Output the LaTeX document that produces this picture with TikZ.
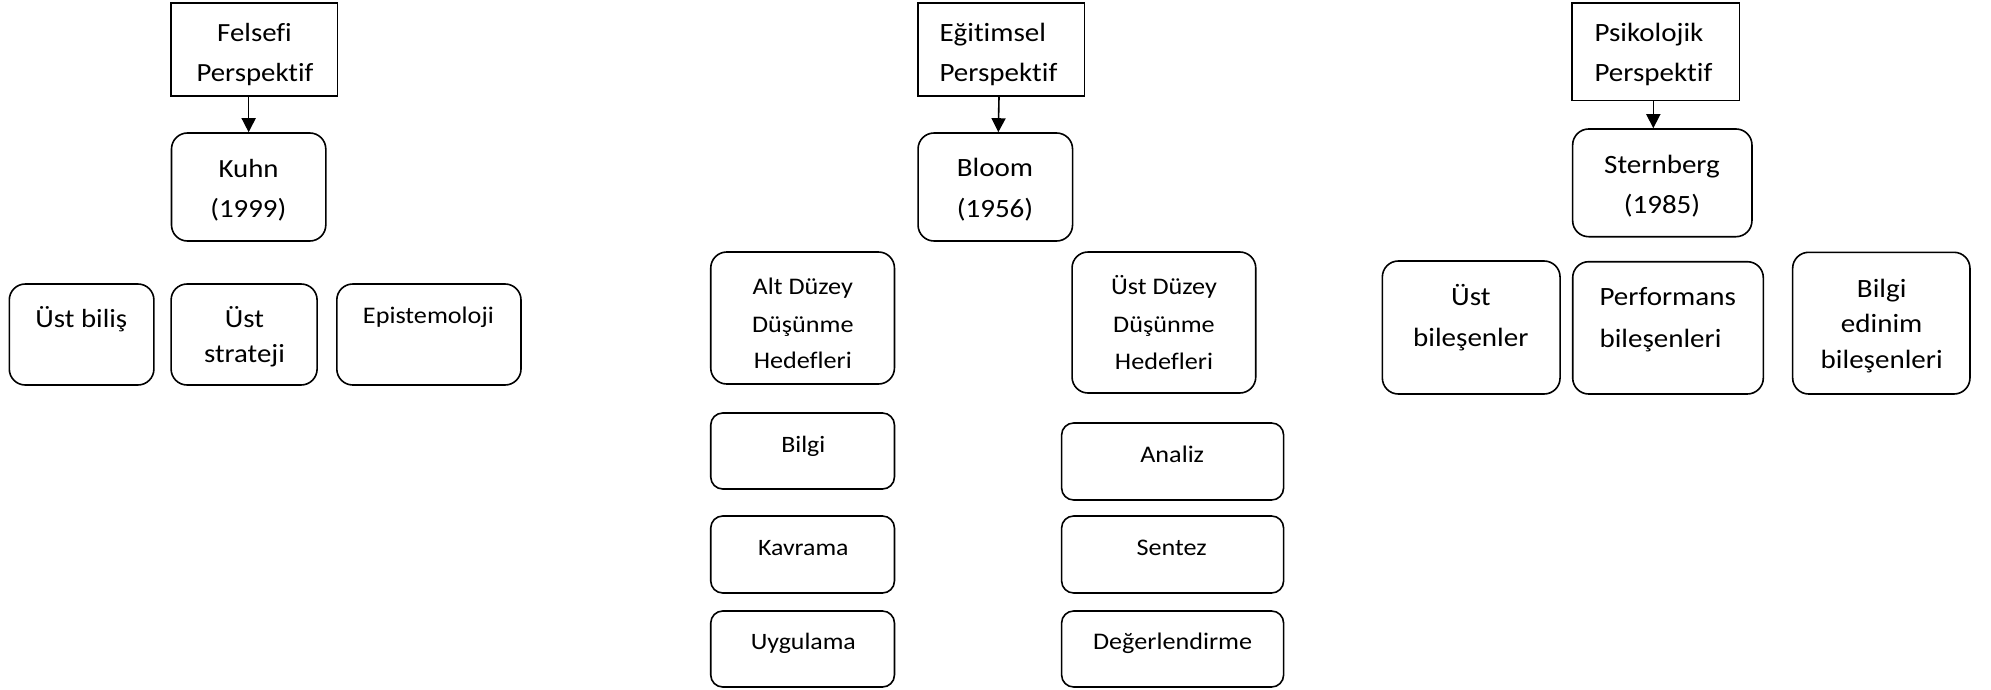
\documentclass[tikz,border=0pt]{standalone}
\usepackage{fontspec}
\setmainfont{Carlito}[FakeStretch=1.1, Ligatures={NoCommon}]
\usetikzlibrary{arrows.meta}
\tikzset{
  sqbox/.style={draw, line width=1.6pt, inner sep=0pt},
  rbox/.style={draw, line width=1.6pt, inner sep=0pt, rounded corners=16pt},
  rsbox/.style={draw, line width=1.6pt, inner sep=0pt, rounded corners=12pt},
  lbl/.style={inner sep=0pt, anchor=base},
  lbll/.style={inner sep=0pt, anchor=base west},
  fA/.style={font=\fontsize{26.2pt}{31pt}\selectfont},
  fH/.style={font=\fontsize{26.4pt}{31pt}\selectfont},
  fB/.style={font=\fontsize{23.8pt}{28pt}\selectfont},
  fC/.style={font=\fontsize{23.8pt}{28pt}\selectfont},
  fS/.style={font=\fontsize{23.5pt}{28pt}\selectfont},
  arr/.style={line width=1.6pt, -{Triangle[width=14pt,length=14pt]}}
}
\begin{document}
\begin{tikzpicture}[x=1pt,y=-1pt]
\useasboundingbox (0,0) rectangle (1991,690);
% ---------- Felsefi ----------
\node[sqbox, minimum width=166.4pt, minimum height=93pt] (fel) at (254.3,49.5) {};
\node[rbox, minimum width=154.3pt, minimum height=108pt] (kuhn) at (248.65,187) {};
\node[rbox, minimum width=144.6pt, minimum height=101pt] (ustbilis) at (81.6,334.5) {};
\node[rbox, minimum width=146pt, minimum height=101pt] (ststrat) at (244.1,334.5) {};
\node[rbox, minimum width=184.2pt, minimum height=101pt] (epis) at (428.9,334.5) {};
\draw[arr] (kuhn.north |- fel.south) -- (kuhn.north);
\node[lbl, fA] (felT1) at (254.5,42) {Felsefi};
\node[lbl, fA] (felT2) at (255,82) {Perspektif};
\node[lbl, fA] (kuhnT1) at (248.6,177) {Kuhn};
\node[lbl, fA] (kuhnT2) at (248.3,217) {(1999)};
\node[lbl, fA] (ustbilisT) at (81.4,327) {Üst biliş};
\node[lbl, fA] (ststratT1) at (244.5,327) {Üst};
\node[lbl, fA] (ststratT2) at (244.5,362) {strateji};
\node[lbl, fB] (episT) at (428.4,323) {Epistemoloji};
% ---------- Egitimsel ----------
\node[sqbox, minimum width=166.6pt, minimum height=93pt] (egit) at (1001,49.5) {};
\node[rbox, minimum width=154.5pt, minimum height=108pt] (bloom) at (995.3,187) {};
\draw[arr] ([xshift=-2pt]egit.south) -- ([xshift=3pt]bloom.north);
\node[lbll, fH] (egitT1) at (939.3,42) {Eğitimsel};
\node[lbll, fH] (egitT2) at (939.3,82) {Perspektif};
\node[lbl, fH] (bloomT1) at (995,176) {Bloom};
\node[lbl, fH] (bloomT2) at (995,217) {(1956)};
\node[rbox, minimum width=183.7pt, minimum height=132pt] (alt) at (802.6,318) {};
\node[rbox, minimum width=183.7pt, minimum height=141pt] (ust) at (1163.9,322.5) {};
\node[lbl, fC] (altT1) at (802.8,294) {Alt Düzey};
\node[lbl, fC] (altT2) at (802.8,332) {Düşünme};
\node[lbl, fC] (altT3) at (802.8,368) {Hedefleri};
\node[lbl, fC] (ustT1) at (1164,294) {Üst Düzey};
\node[lbl, fC] (ustT2) at (1164,332) {Düşünme};
\node[lbl, fC] (ustT3) at (1164,369) {Hedefleri};
\node[rsbox, minimum width=183.7pt, minimum height=76pt] (bilgi) at (802.6,451) {};
\node[rsbox, minimum width=183.7pt, minimum height=77pt] (kavrama) at (802.6,554.5) {};
\node[rsbox, minimum width=183.7pt, minimum height=76pt] (uygulama) at (802.6,649) {};
\node[rsbox, minimum width=222pt, minimum height=77pt] (analiz) at (1172.6,461.5) {};
\node[rsbox, minimum width=222pt, minimum height=77pt] (sentez) at (1172.6,554.5) {};
\node[rsbox, minimum width=222pt, minimum height=76pt] (deger) at (1172.6,649) {};
\node[lbl, fS] (bilgiT) at (803.3,452) {Bilgi};
\node[lbl, fS] (kavramaT) at (803.3,555) {Kavrama};
\node[lbl, fS] (uygulamaT) at (803.3,649) {Uygulama};
\node[lbl, fC] (analizT) at (1172.2,462) {Analiz};
\node[lbl, fC] (sentezT) at (1171.7,555) {Sentez};
\node[lbl, fC] (degerT) at (1172.6,649) {Değerlendirme};
% ---------- Psikolojik ----------
\node[sqbox, minimum width=167.3pt, minimum height=97.7pt] (psi) at (1655.7,51.85) {};
\node[rbox, minimum width=179.3pt, minimum height=107.7pt] (stern) at (1662.3,182.85) {};
\draw[arr] ([xshift=-2.4pt]psi.south) -- ([xshift=-9pt]stern.north);
\node[lbll, fH] (psiT1) at (1594.3,41.7) {Psikolojik};
\node[lbll, fH] (psiT2) at (1594.3,81.7) {Perspektif};
\node[lbl, fH] (sternT1) at (1662,173) {Sternberg};
\node[lbl, fH] (sternT2) at (1662,213) {(1985)};
\node[rbox, minimum width=177.7pt, minimum height=133pt] (ustb) at (1471.2,327.5) {};
\node[rbox, minimum width=190.6pt, minimum height=132.3pt] (perf) at (1668,327.85) {};
\node[rbox, minimum width=177.3pt, minimum height=141.7pt] (bedin) at (1881.3,323.15) {};
\node[lbl, fH] (ustbT1) at (1470.8,305) {Üst};
\node[lbl, fH] (ustbT2) at (1470.8,346.7) {bileşenler};
\node[lbll, fH] (perfT1) at (1599.3,305) {Performans};
\node[lbll, fH] (perfT2) at (1599.3,347) {bileşenleri};
\node[lbl, fH] (bedinT1) at (1881.7,297) {Bilgi};
\node[lbl, fH] (bedinT2) at (1881.7,332) {edinim};
\node[lbl, fH] (bedinT3) at (1881.7,368) {bileşenleri};
\end{tikzpicture}
\end{document}
